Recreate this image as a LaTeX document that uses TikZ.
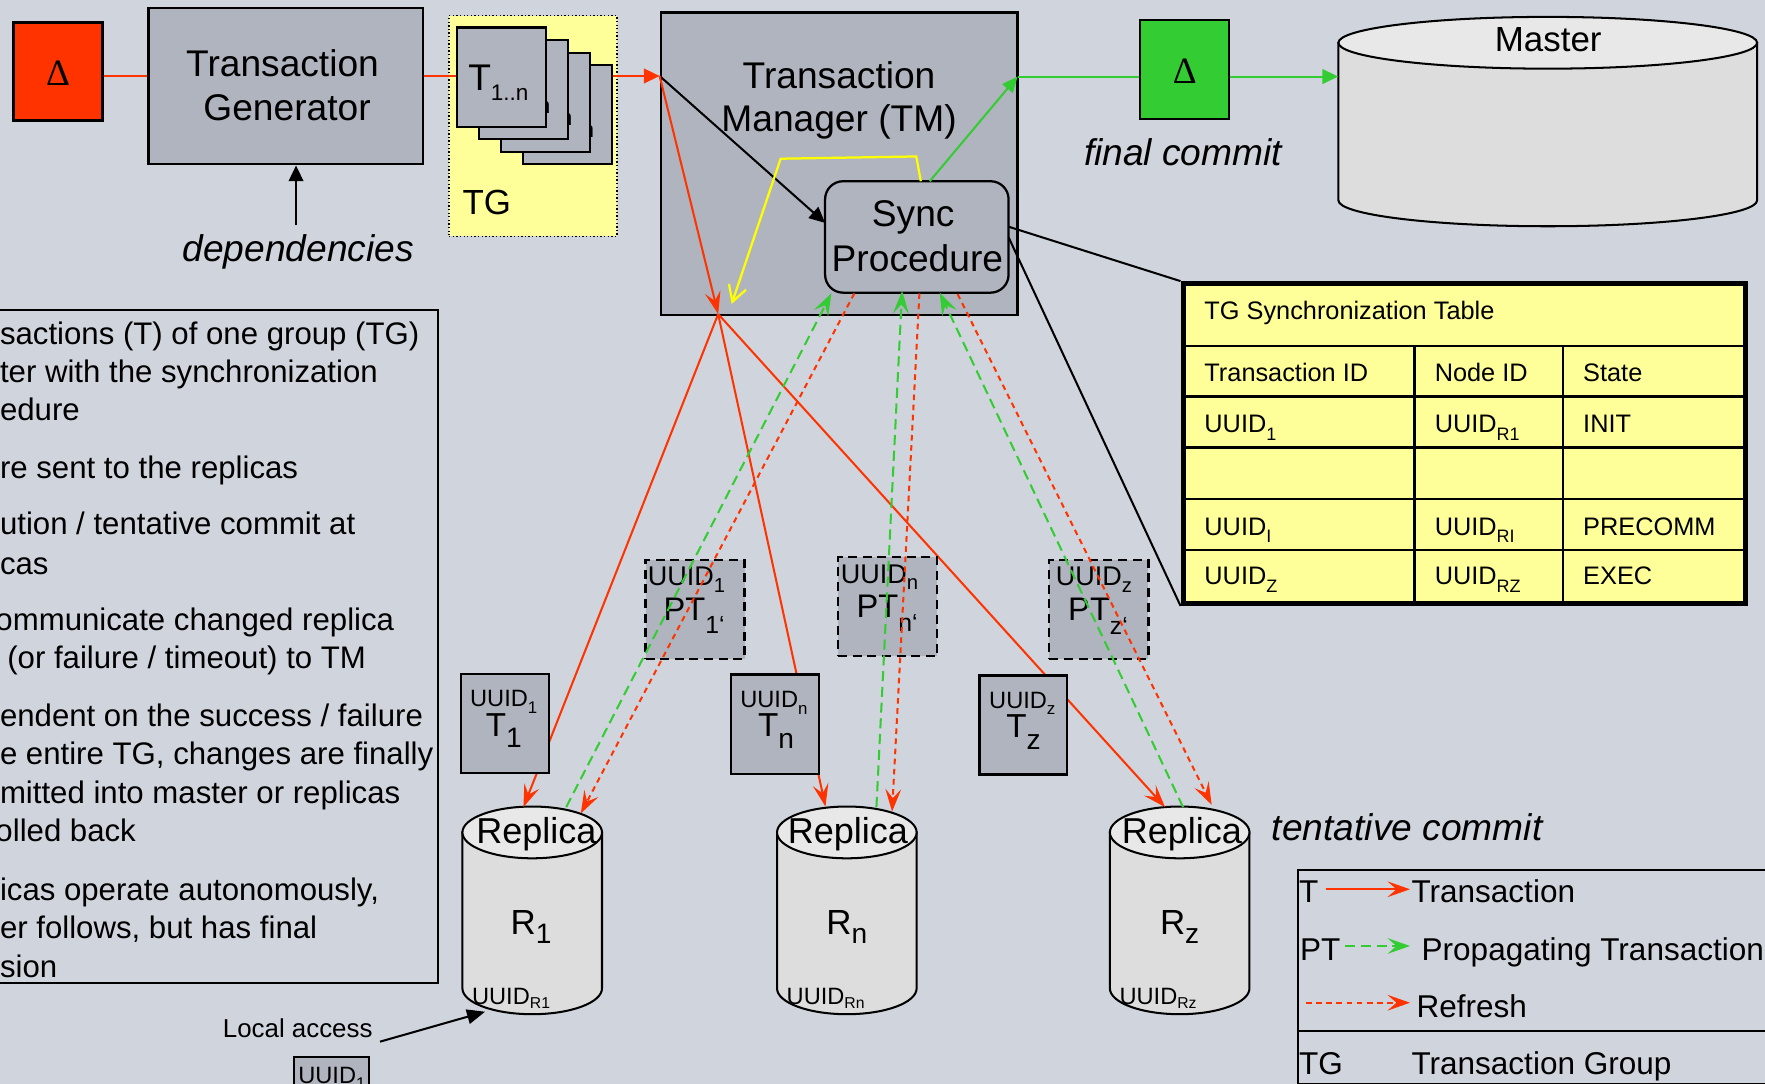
\documentclass[tikz,border=0pt]{standalone}
\usepackage{fontspec}
\setmainfont{Liberation Sans}
\newfontfamily\deltafont{Liberation Serif}
\usetikzlibrary{arrows.meta,calc}
\definecolor{bgc}{RGB}{208,212,220}
\definecolor{boxc}{RGB}{176,180,190}
\definecolor{tgy}{RGB}{255,255,153}
\definecolor{redc}{RGB}{255,51,0}
\definecolor{grnc}{RGB}{51,204,51}
\definecolor{ylwc}{RGB}{255,255,0}
\definecolor{cylb}{RGB}{221,221,221}
\definecolor{cylt}{RGB}{232,232,232}
\newcommand{\fs}[1]{\fontsize{#1pt}{#1pt}\selectfont}
\newcommand{\sbs}[3]{\raisebox{-#2pt}{\fs{#1}#3}}
% cx, top centre y, bottom centre y, rx, ry
\newcommand{\dbcyl}[5]{%
  \filldraw[fill=cylb,draw=black,line width=1.8pt] (#1-#4,#2) -- (#1-#4,#3)
    arc[start angle=180,end angle=360,x radius=#4pt,y radius=#5pt] -- (#1+#4,#2) -- cycle;
  \filldraw[fill=cylt,draw=black,line width=1.8pt] (#1,#2) ellipse[x radius=#4pt,y radius=#5pt];
}
\begin{document}
\begin{tikzpicture}[x=1pt,y=-1pt,
  lbl/.style={inner sep=0pt,outer sep=0pt,anchor=base},
  lblw/.style={inner sep=0pt,outer sep=0pt,anchor=base west},
  gbox/.style={draw=black,line width=2pt,fill=boxc,inner sep=0pt},
  cardbox/.style={gbox,minimum width=79pt,minimum height=88pt},
  tbox/.style={gbox,minimum width=78pt,minimum height=88pt},
  ptbox/.style={draw=black,line width=2pt,fill=boxc,inner sep=0pt,dash pattern=on 8pt off 5pt,minimum width=88pt,minimum height=88pt},
  redline/.style={draw=redc,line width=1.8pt},
  grnline/.style={draw=grnc,line width=1.8pt},
  grndash/.style={grnline,dash pattern=on 9pt off 5pt},
  reddash/.style={redline,dash pattern=on 5pt off 4pt},
  rtip/.style={-{Stealth[length=20pt,width=14pt,inset=8pt]}},
  ttip/.style={-{Triangle[length=14pt,width=13pt]}},
  cylname/.style={inner sep=0pt,minimum width=124pt,minimum height=185pt},
]
\useasboundingbox (0,0) rectangle (1568,963);
\clip (0,0) rectangle (1568,963);
\fill[bgc] (0,0) rectangle (1568,963);

% ---------- notes box ----------
\node[draw=black,line width=1.8pt,inner sep=0pt,minimum width=399pt,minimum height=598pt] (notes) at (189.5,574) {};
\node[lblw] (n1) at (0,306) {\fs{27.7}sactions (T) of one group (TG)};
\node[lblw] (n2) at (0,340) {\fs{27.7}ter with the synchronization};
\node[lblw] (n3) at (0,374) {\fs{27.7}edure};
\node[lblw] (n4) at (0,425) {\fs{27.7}re sent to the replicas};
\node[lblw] (n5) at (0,475) {\fs{27.7}ution / tentative commit at};
\node[lblw] (n6) at (0,510) {\fs{27.7}cas};
\node[lblw] (n7) at (-4,560) {\fs{27.7}ommunicate changed replica};
\node[lblw] (n8) at (6.5,594) {\fs{27.7}(or failure / timeout) to TM};
\node[lblw] (n9) at (0,645) {\fs{27.7}endent on the success / failure};
\node[lblw] (n10) at (0,679) {\fs{27.7}e entire TG, changes are finally};
\node[lblw] (n11) at (0,714) {\fs{27.7}mitted into master or replicas};
\node[lblw] (n12) at (-4,748) {\fs{27.7}olled back};
\node[lblw] (n13) at (0,800) {\fs{27.7}icas operate autonomously,};
\node[lblw] (n14) at (0,834) {\fs{27.7}er follows, but has final};
\node[lblw] (n15) at (0,868) {\fs{27.7}sion};

% ---------- delta + generator ----------
\coordinate (yl) at (0,67.5);
\node[gbox,fill=redc,minimum width=79pt,minimum height=87pt] (dred) at (51.5,63.5) {};
\node[lbl] (dredt) at (51.5,76) {\deltafont\fs{33}Δ};
\node[gbox,minimum width=244pt,minimum height=139pt] (tgen) at (254,76.5) {};
\node[lbl] (tgen1) at (251,68) {\fs{33}Transaction};
\node[lbl] (tgen2) at (255,107) {\fs{33}Generator};
\draw[redline] (dred.east |- yl) -- (tgen.west |- yl);

\node[lbl] (dep) at (265,232) {\fs{33}\itshape dependencies};
\coordinate (depb) at (263,200);
\draw[line width=1.8pt,ttip] (depb) -- (tgen.south -| depb);

% ---------- transaction manager ----------
\node[gbox,minimum width=317pt,minimum height=269pt] (tm) at (745.5,145.5) {};
\node[lbl] (tm1) at (745.4,78.5) {\fs{33}Transaction};
\node[lbl] (tm2) at (745.4,117) {\fs{33}Manager (TM)};
\node[gbox,rounded corners=16pt,minimum width=163pt,minimum height=99pt] (sync) at (814.5,210.5) {};
\node[lbl] (sync1) at (811.3,201.4) {\fs{33}Sync};
\node[lbl] (sync2) at (815,241.3) {\fs{33}Procedure};

% ---------- TG group ----------
\node[draw=black,line width=1.2pt,dotted,fill=tgy,inner sep=0pt,minimum width=149pt,minimum height=196pt] (tgb) at (473.5,112) {};
\node[lblw] (tgl) at (411,191) {\fs{31}TG};
\draw[redline,ttip] (tgen.east |- yl) -- (tm.west |- yl);
\node[cardbox] (c4) at (503.9,101.7) {};
\node[lblw] (c4t) at ($(c4.north west)+(11,56.8)$) {\fs{33}T\sbs{20}{9}{1..n}};
\node[cardbox] (c3) at (484.5,90.8) {};
\node[lblw] (c3t) at ($(c3.north west)+(11,56.8)$) {\fs{33}T\sbs{20}{9}{1..n}};
\node[cardbox] (c2) at (465,79.7) {};
\node[lblw] (c2t) at ($(c2.north west)+(11,56.8)$) {\fs{33}T\sbs{20}{9}{1..n}};
\node[cardbox] (c1) at (445.5,68.5) {};
\node[lblw] (c1t) at ($(c1.north west)+(11,56.8)$) {\fs{33}T\sbs{20}{9}{1..n}};

% ---------- arrows inside TM ----------
\coordinate (tmin) at (tm.west |- yl);
\coordinate (J) at (638,279);
\coordinate (syncin) at (733,198);
\coordinate (ys) at (818,161);
\coordinate (yb1) at (814,139);
\coordinate (yb2) at (693.5,141);
\coordinate (ye) at (650,270);
\coordinate (gs) at (826,161);
\coordinate (tmout) at (904,68);
\draw[line width=1.8pt,ttip] (tmin) -- (syncin);
\draw[redline,rtip] (tmin) -- (J);
\draw[draw=ylwc,line width=2pt,-{Straight Barb[length=14pt,width=16pt]}] (ys) -- (yb1) -- (yb2) -- (ye);
\draw[grnline,-{Triangle[length=14pt,width=12pt]}] (gs) -- (tmout);

% ---------- final commit + master ----------
\node[gbox,fill=grnc,minimum width=79pt,minimum height=88pt] (dgrn) at (1052.5,62) {};
\node[lbl] (dgrnt) at (1052.5,74) {\deltafont\fs{33}Δ};
\draw[grnline] (tmout) -- (dgrn.west |- tmout);
\dbcyl{1375}{38}{178}{186}{23}
\node[inner sep=0pt,minimum width=372pt,minimum height=186pt] (master) at (1375,107) {};
\node[lbl] (mastert) at (1375.4,46) {\fs{31}Master};
\draw[grnline,ttip] (dgrn.east |- tmout) -- (master.west |- tmout);
\node[lblw] (fc) at (963,147) {\fs{33}\itshape final commit};

% ---------- table ----------
\node[draw=black,line width=4.5pt,fill=tgy,inner sep=0pt,minimum width=500pt,minimum height=284pt] (tbl) at (1301,394) {};
\foreach \yy in {307.4,352.4,397.4,443.3,488.6} \draw[line width=2.2pt] (1051,\yy) -- (1551,\yy);
\foreach \xx in {1256.7,1388.7} \draw[line width=2.2pt] (\xx,307.4) -- (\xx,536);
\node[lblw] (th) at (1070,284) {\fs{22.5}TG Synchronization Table};
\node[lblw] (ta1) at (1070,338.5) {\fs{22.5}Transaction ID};
\node[lblw] (ta2) at (1274.6,338.5) {\fs{22.5}Node ID};
\node[lblw] (ta3) at (1406.5,338.5) {\fs{22.5}State};
\node[lblw] (tb1) at (1070,384) {\fs{22.5}UUID\sbs{16}{7}{1}};
\node[lblw] (tb2) at (1274.6,384) {\fs{22.5}UUID\sbs{16}{7}{R1}};
\node[lblw] (tb3) at (1406.5,384) {\fs{22.5}INIT};
\node[lblw] (tc1) at (1070,475.3) {\fs{22.5}UUID\sbs{16}{7}{I}};
\node[lblw] (tc2) at (1274.6,475.3) {\fs{22.5}UUID\sbs{16}{7}{RI}};
\node[lblw] (tc3) at (1406.5,475.3) {\fs{22.5}PRECOMM};
\node[lblw] (td1) at (1070,519.7) {\fs{22.5}UUID\sbs{16}{7}{Z}};
\node[lblw] (td2) at (1274.6,519.7) {\fs{22.5}UUID\sbs{16}{7}{RZ}};
\node[lblw] (td3) at (1406.5,519.7) {\fs{22.5}EXEC};
\coordinate (s1) at (896,201.4);
\coordinate (s2) at (896,210.8);
\draw[line width=1.8pt] (s1) -- (tbl.north west);
\draw[line width=1.8pt] (s2) -- (tbl.south west);

% ---------- replicas ----------
\dbcyl{472.8}{739.5}{878}{62}{23}
\dbcyl{752.3}{739.5}{878}{62}{23}
\dbcyl{1048}{739.5}{878}{62}{23}
\node[cylname] (r1) at (472.8,809) {};
\node[cylname] (rn) at (752.3,809) {};
\node[cylname] (rz) at (1048,809) {};
\node[lbl] (r1a) at (476.5,749) {\fs{32}Replica};
\node[lbl] (rna) at (753.2,749) {\fs{32}Replica};
\node[lbl] (rza) at (1050,749) {\fs{32}Replica};
\node[lbl] (r1b) at (471.8,830.6) {\fs{31}R\sbs{25}{8}{1}};
\node[lbl] (rnb) at (752.3,830.6) {\fs{31}R\sbs{25}{8}{n}};
\node[lbl] (rzb) at (1048,830.6) {\fs{31}R\sbs{25}{8}{z}};
\node[lblw] (r1c) at (419.4,892) {\fs{21}UUID\sbs{14}{4}{R1}};
\node[lblw] (rnc) at (698.9,892) {\fs{21}UUID\sbs{14}{4}{Rn}};
\node[lblw] (rzc) at (994.6,892) {\fs{21}UUID\sbs{14}{4}{Rz}};

% attach points
\coordinate (e1a) at (465,717);    \coordinate (e1g) at (503,717);    \coordinate (e1d) at (516,722.6);
\coordinate (ena) at (733.3,716.5);\coordinate (eng) at (778.6,717);  \coordinate (end) at (792.5,721);
\coordinate (eza) at (1035,717);   \coordinate (ezg) at (1051,717);   \coordinate (ezd) at (1076.4,715);
\coordinate (g1) at (738.6,260.6); \coordinate (gn) at (801.4,258.5); \coordinate (gz) at (834.8,260);
\coordinate (d1) at (759,260.6);   \coordinate (dn) at (816.8,260.6); \coordinate (dz) at (850.7,261.2);

\draw[redline,rtip] (J) -- (e1a);
\draw[redline,rtip] (J) -- (ena);
\draw[redline,rtip] (J) -- (eza);

% PT boxes
\node[ptbox] (pt1) at (617.5,541.2) {};
\node[lblw] (pt1u) at (575.5,520.2) {\fs{24}UUID\sbs{18}{6}{1}};
\node[lblw] (pt1t) at (589.5,551.2) {\fs{29}PT\sbs{22}{12}{1‘}};
\node[ptbox] (ptn) at (788.5,539) {};
\node[lblw] (ptnu) at (747,518) {\fs{24}UUID\sbs{18}{6}{n}};
\node[lblw] (ptnt) at (761,549) {\fs{29}PT\sbs{22}{12}{n‘}};
\node[ptbox] (ptz) at (976.2,541.3) {};
\node[lblw] (ptzu) at (938,520.3) {\fs{24}UUID\sbs{18}{6}{z}};
\node[lblw] (ptzt) at (949,551.3) {\fs{29}PT\sbs{22}{12}{z‘}};

% dashed propagate / refresh
\draw[grndash,rtip] (e1g) -- (g1);
\draw[reddash,rtip] (d1) -- (e1d);
\draw[grndash,rtip] (eng) -- (gn);
\draw[reddash,rtip] (dn) -- (end);
\draw[grndash,rtip] (ezg) -- (gz);
\draw[reddash,rtip] (dz) -- (ezd);

% T boxes
\node[tbox] (t1) at (448.5,643) {};
\node[lbl] (t1u) at (447.5,627.8) {\fs{21}UUID\sbs{15}{6}{1}};
\node[lbl] (t1t) at (447.5,654.4) {\fs{29.5}T\sbs{25}{10}{1}};
\node[tbox] (tn) at (688.5,643.3) {};
\node[lbl] (tnu) at (687.5,628.3) {\fs{21}UUID\sbs{15}{6}{n}};
\node[lbl] (tnt) at (689.5,654.7) {\fs{29.5}T\sbs{25}{10}{n}};
\node[tbox] (tz) at (909.2,644) {};
\node[lbl] (tzu) at (908.2,629) {\fs{21}UUID\sbs{15}{6}{z}};
\node[lbl] (tzt) at (909.2,655.4) {\fs{29.5}T\sbs{25}{10}{z}};

\node[lblw] (tc) at (1130,747) {\fs{33}\itshape tentative commit};

% ---------- local access ----------
\node[lblw] (lacc) at (198,922) {\fs{23}Local access};
\coordinate (las) at (337.6,925.4);
\coordinate (lae) at (430.9,898.8);
\draw[line width=1.8pt,-{Triangle[length=16pt,width=13pt]}] (las) -- (lae);
\node[gbox,line width=1.8pt,minimum width=66pt,minimum height=60pt] (ubox) at (294.5,969) {};
\node[lblw] (uboxt) at (265,962.5) {\fs{21}UUID\sbs{15}{5}{1}};

% ---------- legend ----------
\node[draw=black,line width=2pt,inner sep=0pt,minimum width=467pt,minimum height=190pt] (leg) at (1386.5,868) {};
\coordinate (legsep) at (0,915.6);
\draw[line width=2pt] (leg.west |- legsep) -- (leg.east |- legsep);
\node[lblw] (lT) at (1154,802) {\fs{28}T};
\node[lblw] (lTr) at (1254,802) {\fs{28}Transaction};
\node[lblw] (lPT) at (1155,853) {\fs{28}PT};
\node[lblw] (lPTr) at (1263,853) {\fs{28}Propagating Transaction};
\node[lblw] (lRf) at (1258.5,904) {\fs{28}Refresh};
\node[lblw] (lTG) at (1154,955) {\fs{28}TG};
\node[lblw] (lTGr) at (1254,955) {\fs{28}Transaction Group};
\coordinate (la1) at (1177.7,790); \coordinate (la2) at (1252.6,790);
\coordinate (lb1) at (1195,840.4); \coordinate (lb2) at (1252.6,840.4);
\coordinate (lc1) at (1160.3,890.8); \coordinate (lc2) at (1252.6,890.8);
\draw[redline,rtip] (la1) -- (la2);
\draw[grndash,rtip] (lb1) -- (lb2);
\draw[reddash,rtip] (lc1) -- (lc2);
\end{tikzpicture}
\end{document}
